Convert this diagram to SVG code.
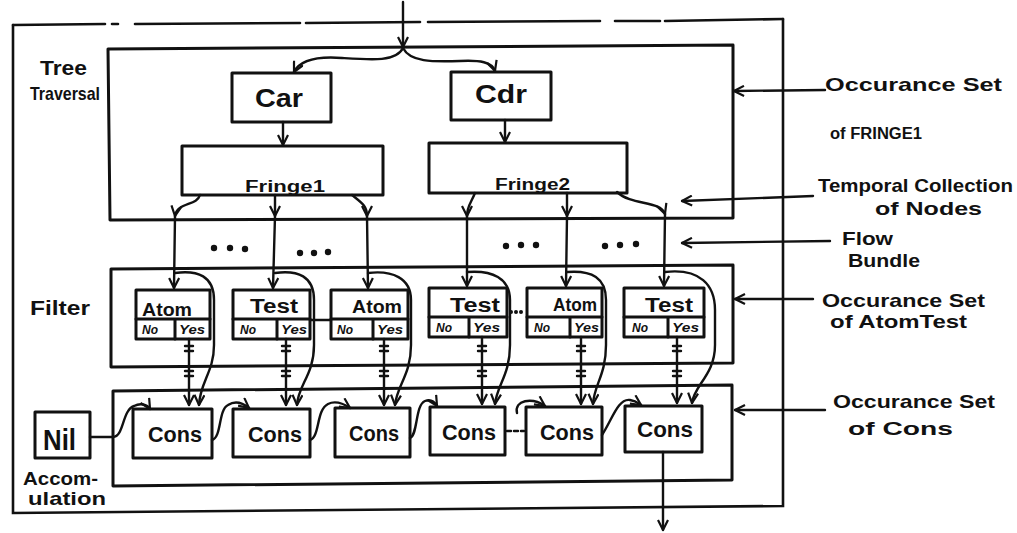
<svg xmlns="http://www.w3.org/2000/svg" width="1017" height="533" viewBox="0 0 1017 533">
<defs>
<style>
.b{fill:none;stroke:#111;stroke-width:3;stroke-linejoin:round;stroke-linecap:round}
.o{fill:none;stroke:#111;stroke-width:2.6;stroke-linecap:round}
.l{fill:none;stroke:#111;stroke-width:2.4;stroke-linecap:round}
.t{font-family:"Liberation Sans",Arial,sans-serif;font-weight:bold;fill:#111}
.dot{fill:#111}
</style>
<marker id="ah" viewBox="0 0 12 12" refX="11" refY="6" markerWidth="12" markerHeight="12" markerUnits="userSpaceOnUse" orient="auto">
<path d="M1,1 L11,6 L1,11" fill="none" stroke="#111" stroke-width="2.2"/>
</marker>
</defs>
<rect width="1017" height="533" fill="#fff"/>

<g id="outer">
<path class="o" d="M13,25 L13,513 L783,506 L783,19"/>
<path class="o" d="M13,25 L105,24 M112,24 L118,24 M135,24 L300,23 M306,23 L420,22 M428,22 L600,21 M615,21 L660,21 M665,21 L783,19"/>
<text class="t" x="40" y="75" font-size="20" textLength="47" lengthAdjust="spacingAndGlyphs">Tree</text>
<text class="t" x="30" y="100" font-size="19" textLength="70" lengthAdjust="spacingAndGlyphs">Traversal</text>
<text class="t" x="30" y="315" font-size="20" textLength="60" lengthAdjust="spacingAndGlyphs">Filter</text>
<text class="t" x="23" y="485" font-size="19" textLength="75" lengthAdjust="spacingAndGlyphs">Accom-</text>
<text class="t" x="28" y="505" font-size="19" textLength="78" lengthAdjust="spacingAndGlyphs">ulation</text>
</g>

<g id="tree-traversal">
<path class="b" d="M108,49 L733,45 L733,218 L110,220 Z"/>
</g>
<g id="car">
<rect class="b" x="232" y="73" width="99" height="49"/>
<text class="t" x="255" y="107" font-size="26" textLength="48" lengthAdjust="spacingAndGlyphs">Car</text>
</g>
<g id="cdr">
<rect class="b" x="451" y="72" width="100" height="48"/>
<text class="t" x="475" y="103" font-size="26" textLength="52" lengthAdjust="spacingAndGlyphs">Cdr</text>
</g>
<g id="fringe1">
<rect class="b" x="182" y="146" width="201" height="49"/>
<text class="t" x="245" y="192" font-size="16" textLength="80" lengthAdjust="spacingAndGlyphs">Fringe1</text>
</g>
<g id="fringe2">
<rect class="b" x="429" y="143" width="198" height="50"/>
<text class="t" x="495" y="190" font-size="16" textLength="75" lengthAdjust="spacingAndGlyphs">Fringe2</text>
</g>

<g id="filter-set">
<path class="b" d="M111,269 L733,265 L733,363 L111,367 Z"/>
</g>
<g id="f1">
<rect class="b" x="136" y="290" width="74" height="49"/>
<path class="b" d="M136,319 H210 M175,319 V339"/>
<text class="t" x="142" y="316" font-size="19" textLength="50" lengthAdjust="spacingAndGlyphs">Atom</text>
<text class="t" x="142" y="334" font-size="12" font-style="italic">No</text>
<text class="t" x="179" y="334" font-size="12" font-style="italic" textLength="26" lengthAdjust="spacingAndGlyphs">Yes</text>
</g>
<g id="f2">
<rect class="b" x="233" y="290" width="77" height="49"/>
<path class="b" d="M233,319 H310 M277,319 V339"/>
<text class="t" x="250" y="313" font-size="20" textLength="48" lengthAdjust="spacingAndGlyphs">Test</text>
<text class="t" x="240" y="334" font-size="12" font-style="italic">No</text>
<text class="t" x="281" y="334" font-size="12" font-style="italic" textLength="26" lengthAdjust="spacingAndGlyphs">Yes</text>
</g>
<g id="f3">
<rect class="b" x="331" y="290" width="77" height="49"/>
<path class="b" d="M331,319 H408 M373,319 V339"/>
<text class="t" x="352" y="313" font-size="19" textLength="50" lengthAdjust="spacingAndGlyphs">Atom</text>
<text class="t" x="337" y="334" font-size="12" font-style="italic">No</text>
<text class="t" x="377" y="334" font-size="12" font-style="italic" textLength="26" lengthAdjust="spacingAndGlyphs">Yes</text>
</g>
<g id="f4">
<rect class="b" x="429" y="288" width="78" height="49"/>
<path class="b" d="M429,317 H507 M469,317 V337"/>
<text class="t" x="450" y="312" font-size="20" textLength="50" lengthAdjust="spacingAndGlyphs">Test</text>
<text class="t" x="436" y="332" font-size="12" font-style="italic">No</text>
<text class="t" x="473" y="332" font-size="12" font-style="italic" textLength="27" lengthAdjust="spacingAndGlyphs">Yes</text>
</g>
<g id="f5">
<rect class="b" x="527" y="288" width="75" height="49"/>
<path class="b" d="M527,317 H602 M570,317 V337"/>
<text class="t" x="553" y="311" font-size="18" textLength="44" lengthAdjust="spacingAndGlyphs">Atom</text>
<text class="t" x="534" y="332" font-size="12" font-style="italic">No</text>
<text class="t" x="574" y="332" font-size="12" font-style="italic" textLength="25" lengthAdjust="spacingAndGlyphs">Yes</text>
</g>
<g id="f6">
<rect class="b" x="624" y="288" width="80" height="49"/>
<path class="b" d="M624,317 H704 M668,317 V337"/>
<text class="t" x="645" y="312" font-size="20" textLength="48" lengthAdjust="spacingAndGlyphs">Test</text>
<text class="t" x="632" y="332" font-size="12" font-style="italic">No</text>
<text class="t" x="672" y="332" font-size="12" font-style="italic" textLength="27" lengthAdjust="spacingAndGlyphs">Yes</text>
</g>

<g id="accumulation-set">
<path class="b" d="M113,391 L732,385 L732,480 L113,486 Z"/>
</g>
<g id="nil">
<rect class="b" x="35" y="412" width="55" height="46"/>
<text class="t" x="43" y="450" font-size="30" textLength="33" lengthAdjust="spacingAndGlyphs">Nil</text>
</g>
<g id="c1">
<rect class="b" x="133" y="409" width="79" height="49"/>
<text class="t" x="148" y="442" font-size="22" textLength="54" lengthAdjust="spacingAndGlyphs">Cons</text>
</g>
<g id="c2">
<rect class="b" x="233" y="409" width="77" height="48"/>
<text class="t" x="248" y="442" font-size="22" textLength="54" lengthAdjust="spacingAndGlyphs">Cons</text>
</g>
<g id="c3">
<rect class="b" x="335" y="408" width="75" height="49"/>
<text class="t" x="349" y="441" font-size="22" textLength="50" lengthAdjust="spacingAndGlyphs">Cons</text>
</g>
<g id="c4">
<rect class="b" x="430" y="407" width="75" height="48"/>
<text class="t" x="442" y="440" font-size="22" textLength="54" lengthAdjust="spacingAndGlyphs">Cons</text>
</g>
<g id="c5">
<rect class="b" x="526" y="407" width="76" height="48"/>
<text class="t" x="540" y="440" font-size="22" textLength="54" lengthAdjust="spacingAndGlyphs">Cons</text>
</g>
<g id="c6">
<rect class="b" x="625" y="406" width="77" height="46"/>
<text class="t" x="637" y="437" font-size="22" textLength="56" lengthAdjust="spacingAndGlyphs">Cons</text>
</g>

<g id="labels">
<text class="t" x="825" y="91" font-size="19" textLength="177" lengthAdjust="spacingAndGlyphs">Occurance Set</text>
<text class="t" x="830" y="139" font-size="16" textLength="92" lengthAdjust="spacingAndGlyphs">of FRINGE1</text>
<text class="t" x="818" y="192" font-size="19" textLength="195" lengthAdjust="spacingAndGlyphs">Temporal Collection</text>
<text class="t" x="875" y="215" font-size="19" textLength="107" lengthAdjust="spacingAndGlyphs">of Nodes</text>
<text class="t" x="842" y="245" font-size="19" textLength="51" lengthAdjust="spacingAndGlyphs">Flow</text>
<text class="t" x="848" y="267" font-size="19" textLength="72" lengthAdjust="spacingAndGlyphs">Bundle</text>
<text class="t" x="822" y="307" font-size="19" textLength="163" lengthAdjust="spacingAndGlyphs">Occurance Set</text>
<text class="t" x="830" y="328" font-size="19" textLength="137" lengthAdjust="spacingAndGlyphs">of AtomTest</text>
<text class="t" x="833" y="408" font-size="19" textLength="162" lengthAdjust="spacingAndGlyphs">Occurance Set</text>
<text class="t" x="848" y="435" font-size="19" textLength="105" lengthAdjust="spacingAndGlyphs">of Cons</text>
</g>

<g id="connectors">
<path class="l" d="M403,2 L403,47" marker-end="url(#ah)"/>
<path class="l" d="M403,48 C396,62 372,60 342,58 C316,56 300,60 294,72" marker-end="url(#ah)"/>
<path class="l" d="M403,48 C410,62 432,62 460,61 C480,60 492,62 495,71" marker-end="url(#ah)"/>
<path class="l" d="M283,122 L283,145" marker-end="url(#ah)"/>
<path class="l" d="M505,120 L505,142" marker-end="url(#ah)"/>

<path class="l" d="M200,195 C197,206 177,202 175,216" marker-end="url(#ah)"/>
<path class="l" d="M275,195 L275,216" marker-end="url(#ah)"/>
<path class="l" d="M352,195 C362,203 367,206 367,216" marker-end="url(#ah)"/>
<path class="l" d="M475,193 C471,203 467,206 467,216" marker-end="url(#ah)"/>
<path class="l" d="M567,193 L567,216" marker-end="url(#ah)"/>
<path class="l" d="M617,192 C632,206 660,200 665,214" marker-end="url(#ah)"/>

<path class="l" d="M175,216 L174,288" marker-end="url(#ah)"/>
<path class="l" d="M275,216 L273,288" marker-end="url(#ah)"/>
<path class="l" d="M367,216 L368,288" marker-end="url(#ah)"/>
<path class="l" d="M467,216 L467,286" marker-end="url(#ah)"/>
<path class="l" d="M567,216 L566,286" marker-end="url(#ah)"/>
<path class="l" d="M665,214 L664,286" marker-end="url(#ah)"/>

<path class="l" d="M175,273 C198,270 214,276 214,300 L214,345 C214,372 200,382 199,405" marker-end="url(#ah)"/>
<path class="l" d="M275,273 C298,270 314,276 314,300 L314,345 C314,375 298,385 297,405" marker-end="url(#ah)"/>
<path class="l" d="M368,273 C392,270 411,278 411,300 L411,345 C411,375 397,385 395,405" marker-end="url(#ah)"/>
<path class="l" d="M467,272 C492,270 510,278 510,300 L510,345 C510,375 497,385 495,404" marker-end="url(#ah)"/>
<path class="l" d="M567,272 C592,270 606,278 606,300 L606,345 C606,375 594,385 593,404" marker-end="url(#ah)"/>
<path class="l" d="M665,272 C700,268 715,285 715,310 L715,345 C715,375 694,385 692,403" marker-end="url(#ah)"/>

<path class="l" d="M189,339 L189,405" marker-end="url(#ah)"/>
<path class="l" d="M286,339 L286,405" marker-end="url(#ah)"/>
<path class="l" d="M384,339 L384,405" marker-end="url(#ah)"/>
<path class="l" d="M482,337 L482,404" marker-end="url(#ah)"/>
<path class="l" d="M581,337 L581,404" marker-end="url(#ah)"/>
<path class="l" d="M677,337 L677,403" marker-end="url(#ah)"/>
<path class="l" d="M185,346 h8 M185,351 h8 M185,371 h8 M185,376 h8 M282,346 h8 M282,351 h8 M282,371 h8 M282,376 h8 M380,346 h8 M380,351 h8 M380,371 h8 M380,376 h8 M478,346 h8 M478,351 h8 M478,371 h8 M478,376 h8 M577,346 h8 M577,351 h8 M577,371 h8 M577,376 h8 M673,346 h8 M673,351 h8 M673,371 h8 M673,376 h8"/>

<path class="l" d="M310,320 L331,320"/>

<path class="l" d="M90,437 L113,437 C124,437 122,410 134,406 C140,403 147,404 150,409" marker-end="url(#ah)"/>
<path class="l" d="M212,440 C222,437 218,410 228,405 C236,400 244,404 249,408" marker-end="url(#ah)"/>
<path class="l" d="M310,440 C320,437 316,410 328,404 C336,400 344,404 350,408" marker-end="url(#ah)"/>
<path class="l" d="M410,438 C418,435 415,405 425,401 C430,399 434,401 437,406" marker-end="url(#ah)"/>
<path class="l" d="M517,413 C514,400 532,397 545,406" marker-end="url(#ah)"/>
<path class="l" d="M602,435 C612,420 618,398 630,400 C636,401 638,403 641,405" marker-end="url(#ah)"/>
<path class="l" d="M663,452 L663,530" marker-end="url(#ah)"/>
<path class="l" d="M507,431 h4 M514,431 h4 M521,431 h3"/>

<path class="l" d="M825,90 L734,91" marker-end="url(#ah)"/>
<path class="l" d="M813,196 L682,201" marker-end="url(#ah)"/>
<path class="l" d="M830,241 L682,243" marker-end="url(#ah)"/>
<path class="l" d="M813,299 L735,299" marker-end="url(#ah)"/>
<path class="l" d="M825,410 L735,410" marker-end="url(#ah)"/>
</g>

<g id="dots">
<circle class="dot" cx="214" cy="248" r="3.2"/><circle class="dot" cx="230" cy="248" r="3.2"/><circle class="dot" cx="245" cy="249" r="3.2"/>
<circle class="dot" cx="300" cy="253" r="3.2"/><circle class="dot" cx="314" cy="253" r="3.2"/><circle class="dot" cx="328" cy="252" r="3.2"/>
<circle class="dot" cx="506" cy="246" r="3.2"/><circle class="dot" cx="521" cy="245" r="3.2"/><circle class="dot" cx="536" cy="245" r="3.2"/>
<circle class="dot" cx="605" cy="246" r="3.2"/><circle class="dot" cx="620" cy="245" r="3.2"/><circle class="dot" cx="636" cy="244" r="3.2"/>
<circle class="dot" cx="511" cy="312" r="2"/><circle class="dot" cx="516" cy="312" r="2"/><circle class="dot" cx="521" cy="312" r="2"/>
</g>
</svg>
